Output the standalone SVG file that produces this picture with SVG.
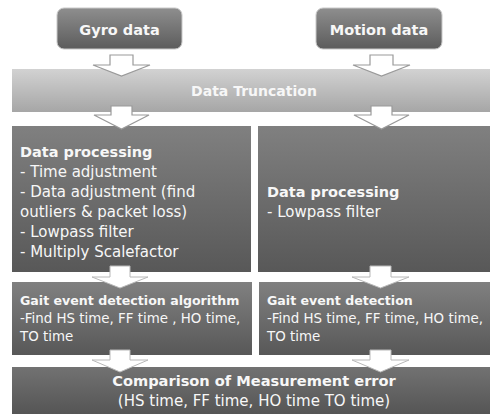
<svg xmlns="http://www.w3.org/2000/svg" width="490" height="414" viewBox="0 0 490 414">
<defs>
<linearGradient id="gTop" x1="0" y1="0" x2="0" y2="1"><stop offset="0" stop-color="#8e8e8e"/><stop offset="1" stop-color="#5c5c5c"/></linearGradient>
<linearGradient id="gLight" x1="0" y1="0" x2="0" y2="1"><stop offset="0" stop-color="#d2d2d2"/><stop offset="1" stop-color="#a6a6a6"/></linearGradient>
<linearGradient id="gDark" x1="0" y1="0" x2="0" y2="1"><stop offset="0" stop-color="#808080"/><stop offset="1" stop-color="#585858"/></linearGradient>
<linearGradient id="gComp" x1="0" y1="0" x2="0" y2="1"><stop offset="0" stop-color="#727272"/><stop offset="1" stop-color="#555555"/></linearGradient>
</defs>
<style>
text{font-family:"DejaVu Sans","Liberation Sans",sans-serif;fill:#f7f7f7}
.b{font-weight:bold}
.p{font-size:15px}
.pb{font-size:14.5px;font-weight:bold}
.g{font-size:13.4px}
.gb{font-size:12.6px;font-weight:bold}
.arrow{fill:#ffffff;stroke:#9a9a9a;stroke-width:1.2}
.arrowD{fill:#ffffff;stroke:#b8b8b8;stroke-width:1}
</style>
<rect width="490" height="414" fill="#ffffff"/>

<g id="gyro">
<rect x="57" y="8" width="125" height="41" rx="7" fill="url(#gTop)" stroke="#c8c8c8" stroke-width="1"/>
<text x="119.5" y="35" text-anchor="middle" class="b" font-size="14.5">Gyro data</text>
</g>
<g id="motion">
<rect x="316" y="8" width="126" height="41" rx="7" fill="url(#gTop)" stroke="#c8c8c8" stroke-width="1"/>
<text x="379" y="35" text-anchor="middle" class="b" font-size="14.5">Motion data</text>
</g>

<g id="truncation">
<rect x="12" y="69" width="478" height="43" fill="url(#gLight)"/>
<text x="254" y="96" text-anchor="middle" class="b" font-size="14">Data Truncation</text>
</g>

<g id="proc-left">
<rect x="12" y="126" width="239" height="146" fill="url(#gDark)"/>
<text x="20" y="157" class="pb">Data processing</text>
<text x="20" y="177" class="p">- Time adjustment</text>
<text x="20" y="197" class="p">- Data adjustment (find</text>
<text x="20" y="217" class="p">outliers &amp; packet loss)</text>
<text x="20" y="237" class="p">- Lowpass filter</text>
<text x="20" y="257" class="p">- Multiply Scalefactor</text>
</g>

<g id="proc-right">
<rect x="258" y="126" width="232" height="146" fill="url(#gDark)"/>
<text x="267" y="197" class="pb">Data processing</text>
<text x="267" y="217" class="p">- Lowpass filter</text>
</g>

<g id="gait-left">
<rect x="12" y="282" width="240" height="73" fill="url(#gDark)"/>
<text x="20" y="305" class="gb">Gait event detection algorithm</text>
<text x="20" y="323" class="g">-Find HS time, FF time , HO time,</text>
<text x="20" y="341" class="g">TO time</text>
</g>

<g id="gait-right">
<rect x="259" y="282" width="231" height="73" fill="url(#gDark)"/>
<text x="267" y="305" class="gb">Gait event detection</text>
<text x="267" y="323" class="g">-Find HS time, FF time, HO time,</text>
<text x="267" y="341" class="g">TO time</text>
</g>

<g id="comparison">
<rect x="12" y="367" width="478" height="47" fill="url(#gComp)"/>
<text x="254" y="386" text-anchor="middle" class="b" font-size="14.6">Comparison of Measurement error</text>
<text x="254" y="406" text-anchor="middle" font-size="15">(HS time, FF time, HO time TO time)</text>
</g>

<g id="connectors">
<path class="arrow" d="M110,55 H133 V65 H150 L121.5,76 L93,65 H110 Z"/>
<path class="arrow" d="M370,55 H393 V65 H410 L381.5,76 L353,65 H370 Z"/>
<path class="arrow" d="M111,106 H132 V115 H149 L121.5,129 L94,115 H111 Z"/>
<path class="arrow" d="M371,106 H392 V115 H409 L381.5,129 L354,115 H371 Z"/>
<path class="arrowD" d="M110,266 H130 V277 H148 L120,288 L92,277 H110 Z"/>
<path class="arrowD" d="M370,266 H391 V277 H409 L380.5,288 L352,277 H370 Z"/>
<path class="arrowD" d="M110,350 H130 V360 H148 L120,372 L92,360 H110 Z"/>
<path class="arrowD" d="M370,350 H391 V360 H409 L380.5,372 L352,360 H370 Z"/>
</g>
</svg>
